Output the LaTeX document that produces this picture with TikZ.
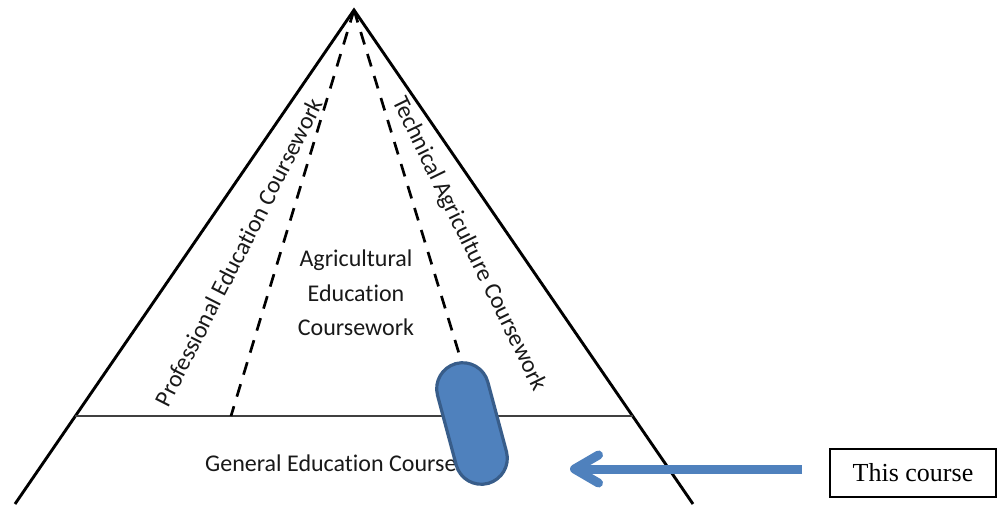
\documentclass[tikz,border=0pt]{standalone}
\usepackage{fontspec}
\setmainfont{Carlito}[Ligatures=NoCommon]
\newfontfamily\timesfont{Liberation Serif}
\usetikzlibrary{arrows.meta}
\definecolor{capfill}{HTML}{4F81BD}
\definecolor{capedge}{HTML}{385D8A}
\begin{document}
\begin{tikzpicture}[x=1pt,y=-1pt,
  triside/.style={line width=2.9pt, black, line join=miter},
  divline/.style={line width=2.5pt, black!75},
  dashln/.style={line width=2.7pt, black, dash pattern=on 13pt off 10pt},
  txtlbl/.style={font=\fontsize{24}{28}\selectfont, text=black!90, inner sep=0pt},
  capsule/.style={draw=capedge, fill=capfill, line width=3.2pt, rounded corners=26pt,
    minimum width=52pt, minimum height=124pt, rotate=15, inner sep=0pt},
  bluearr/.style={draw=capfill, line width=9pt, -{Straight Barb[length=24pt, width=28pt, round]}},
  cbox/.style={draw, line width=1.3pt, minimum height=48pt, minimum width=166pt,
    inner sep=0pt, font=\timesfont\fontsize{26}{30}\selectfont}
]
\useasboundingbox (0,0) rectangle (997,504);
\fill[white] (0,0) rectangle (997,504);
% triangle
\coordinate (apex) at (354,10);
\coordinate (bl) at (15,504);
\coordinate (br) at (693,504);
\coordinate (dl) at (75.4,416);
\coordinate (dr) at (632.6,416);
\coordinate (dlb) at (231,416);
\coordinate (drb) at (461,360);
\draw[triside] (bl) -- (apex) -- (br);
\draw[divline] (dl) -- (dr);
\draw[dashln] (apex) -- (dlb);
\draw[dashln] (apex) -- (drb);
% labels
\node[txtlbl, rotate=63] (prof) at (239,252) {Professional Education Coursework};
\node[txtlbl, rotate=-64] (tech) at (469,244) {Technical Agriculture Coursework};
\node[txtlbl, anchor=base] (agr1) at (356,266) {Agricultural};
\node[txtlbl, anchor=base] (agr2) at (356,301) {Education};
\node[txtlbl, anchor=base] (agr3) at (356,335) {Coursework};
\node[txtlbl, anchor=base west] (gen) at (205,471) {General Education Course};
% capsule
\node[capsule] (cap) at (472,423.5) {};
% arrow and box
\coordinate (atail) at (802,469);
\coordinate (atip) at (570,469);
\draw[bluearr] (atail) -- (atip);
\node[cbox] (box) at (913,473) {This course};
\end{tikzpicture}
\end{document}
